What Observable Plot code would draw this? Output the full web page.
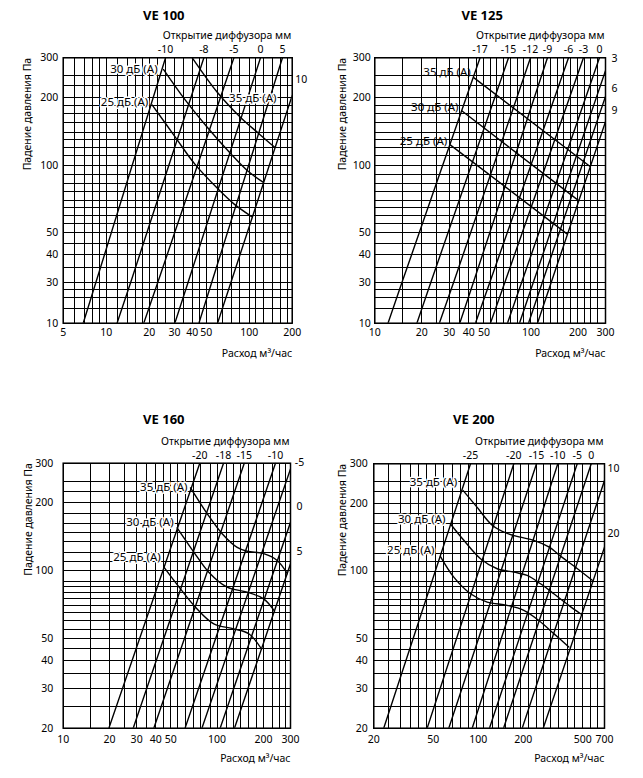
<!DOCTYPE html>
<html>
<head>
<meta charset="utf-8">
<script src="https://cdn.jsdelivr.net/npm/d3@7"></script>
<script src="https://cdn.jsdelivr.net/npm/@observablehq/plot@0.6"></script>
<style>
  body { margin: 0; background: #fff; }
  #root { position: relative; width: 643px; height: 778px; overflow: hidden; background: #fff; }
  .panel { position: absolute; }
</style>
</head>
<body>
<div id="root"></div>
<script>
// ---------------- DATA ----------------
const panelTitles = ["VE 100", "VE 125", "VE 160", "VE 200"];
const topAxisTitle = "Открытие диффузора мм";
const yAxisTitle = "Падение давления Па";
const xAxisTitle = "Расход м³/час";
const dbNames = ["25 дБ (A)", "30 дБ (A)", "35 дБ (A)"];

// VE 100  (flow m3/h, pressure Pa)
const ve100Names = ["-10", "-8", "-5", "0", "5", "10"];
const ve100Lines = [
  [[6.9, 10], [8.45, 30], [26.0, 300]],
  [[11.9, 10], [14.8, 30], [48.2, 300]],
  [[18.3, 10], [22.9, 30], [78.2, 300]],
  [[30.2, 10], [37.3, 30], [120, 300]],
  [[44.5, 10], [54.6, 30], [171, 300]],
  [[60.1, 10], [74.4, 30], [200, 204]]
];
const ve100RightLabelP = [240];
const ve100Db = [
  [[21.0, 185], [30.5, 133], [41.7, 101], [60.4, 78.5], [78.2, 67.3], [104, 59.1]],
  [[25.2, 266], [35.9, 194], [50.9, 147.5], [74.1, 112.7], [97, 94.7], [125, 84]],
  [[40, 300], [59.8, 211], [87.1, 163], [117, 138], [151, 120]]
];
const ve100Db35LabelAt = [106, 198];
const ve100XTicks = [5, 10, 20, 30, 40, 50, 100, 200];
const ve100GridX = [5, 6, 7, 8, 9, 10, 12, 14, 16, 18, 20, 23, 26, 30, 35, 40, 45, 50, 60, 65, 75, 85, 100, 110, 125, 145, 165, 185, 200];

// VE 125
const ve125Names = ["-17", "-15", "-12", "-9", "-6", "-3", "0", "3", "6", "9"];
const ve125Lines = [
  [[12.15, 10], [14.9, 30], [47.2, 300]],
  [[18.6, 10], [22.8, 30], [71.8, 300]],
  [[25.9, 10], [31.9, 30], [99.3, 300]],
  [[35.0, 10], [42.7, 30], [127.5, 300]],
  [[44.1, 10], [54.4, 30], [173.9, 300]],
  [[55.0, 10], [67.9, 30], [216.8, 300]],
  [[70.7, 10], [87.0, 30], [274.5, 300]],
  [[84.4, 10], [103.3, 30], [300, 263]],
  [[96.4, 10], [118, 30], [300, 202]],
  [[110.1, 10], [134.5, 30], [300, 156]]
];
const ve125RightLabelP = [296, 219, 175];
const ve125Db = [
  [[30.4, 123], [170, 49.5]],
  [[36.2, 174], [201, 69.7]],
  [[43.0, 245], [238, 98.9]]
];
const ve125XTicks = [10, 20, 30, 40, 50, 100, 200, 300];
const ve125GridX = [10, 15, 20, 25, 30, 35, 40, 45, 50, 55, 60, 67, 74, 82, 90, 100, 110, 120, 133, 147, 162, 180, 200, 220, 240, 265, 300];

// VE 160
const ve160Names = ["-20", "-18", "-15", "-10", "-5", "0", "5"];
const ve160Lines = [
  [[19.8, 20], [77.2, 300]],
  [[28.5, 20], [110.1, 300]],
  [[38.8, 20], [150.2, 300]],
  [[61.9, 20], [239.6, 300]],
  [[79.7, 20], [300, 283]],
  [[104.7, 20], [300, 164]],
  [[129.7, 20], [300, 107.3]]
];
const ve160RightLabelP = [303, 193, 121];
const ve160Db = [
  [[45.0, 104], [57.8, 83.1], [72.4, 68.9], [95.2, 58.1], [128.4, 55.2], [160.7, 52.5], [194.3, 45]],
  [[55.0, 155], [70.6, 121], [88.3, 98.5], [116.3, 84.5], [156.9, 80.3], [201, 75], [236, 66.1]],
  [[67.2, 233], [86.3, 179], [107.9, 146], [135.1, 127], [156.9, 122], [201, 119], [246, 111], [286, 97]]
];
const ve160XTicks = [10, 20, 30, 40, 50, 100, 200, 300];
const ve160GridX = [10, 15, 20, 25, 30, 35, 40, 45, 50, 55, 62, 70, 78, 90, 100, 115, 128, 142, 160, 180, 200, 228, 255, 278, 300];

// VE 200
const ve200Names = ["-25", "-20", "-15", "-10", "-5", "0", "10", "20"];
const ve200Lines = [
  [[23.3, 20], [88.8, 300]],
  [[45.5, 20], [173, 300]],
  [[63.5, 20], [245.5, 300]],
  [[91.1, 20], [340.8, 300]],
  [[118.9, 20], [459.7, 300]],
  [[147.7, 20], [570.5, 300]],
  [[196.9, 20], [700, 253]],
  [[272.2, 20], [700, 127.8]]
];
const ve200RightLabelP = [285, 146];
const ve200Db = [
  [[55.9, 116], [68.6, 94], [88.8, 79.3], [114.8, 72.8], [156.3, 70.4], [201.9, 66.9], [254.3, 60.3], [320.5, 52.7], [403.9, 45.9]],
  [[65.2, 162], [80.1, 137], [103.5, 113.5], [133.9, 102.4], [173, 98.9], [212.7, 95.7], [261, 87.8], [320.5, 79.3], [403.9, 70.4], [483.6, 64.6]],
  [[79.3, 228], [98.4, 192], [124, 160], [156.3, 147], [191.8, 141.5], [235.6, 137], [296.8, 128], [364.7, 115], [447.7, 104], [579.4, 91]]
];
const ve200XTicks = [20, 50, 100, 200, 500, 700];
const ve200GridX = [20, 25, 30, 35, 40, 45, 52, 59, 67, 76, 86, 97, 109, 124, 137, 152, 171, 192, 218, 245, 275, 305, 346, 394, 441, 497, 564, 626, 700];

// shared y
const topYTicks = [10, 30, 40, 50, 100, 200, 300];
const topGridY = [10, 15, 20, 25, 30, 35, 40, 45, 50, 55, 60, 65, 70, 76, 83, 91, 100, 110, 120, 130, 140, 155, 170, 185, 200, 225, 250, 300];
const bottomYTicks = [20, 30, 40, 50, 100, 200, 300];
const bottomGridY = [20, 25, 30, 35, 40, 45, 50, 55, 60, 65, 70, 75, 80, 85, 90, 100, 110, 120, 135, 148, 162, 180, 200, 225, 250, 300];

// ---------------- LAYOUT / STYLE ----------------
const FONT = "'Noto Sans', 'DejaVu Sans', sans-serif";
const panels = [
  {title: panelTitles[0], left: 0, top: 0, width: 321, height: 390, ml: 62.7, mr: 29.3, mt: 57.3, mb: 67.3,
   xDomain: [5, 200], yDomain: [10, 30, 300], piece: true, xTicks: ve100XTicks, yTicks: topYTicks,
   gridX: ve100GridX, gridY: topGridY, names: ve100Names, lines: ve100Lines, rightP: ve100RightLabelP,
   db: ve100Db, dbOff: [[-4, -3], [-6, 0], null], dbSpecial: ve100Db35LabelAt, halo: true,
   titleDx: 100.6, titleDy: -47.3, ylabDx: -39.4, xPad: 5, yPad: 5},
  {title: panelTitles[1], left: 321, top: 0, width: 322, height: 390, ml: 53.3, mr: 38, mt: 57.3, mb: 67.3,
   xDomain: [10, 300], yDomain: [10, 30, 300], piece: true, xTicks: ve125XTicks, yTicks: topYTicks,
   gridX: ve125GridX, gridY: topGridY, names: ve125Names, lines: ve125Lines, rightP: ve125RightLabelP,
   db: ve125Db, dbOff: [[-3, -3.5], [-3.5, -4], [-3, -5]], halo: false,
   titleDx: 107.4, titleDy: -47.3, ylabDx: -36, xPad: 5, yPad: 4},
  {title: panelTitles[2], left: 0, top: 390, width: 321, height: 388, ml: 62.7, mr: 31, mt: 72.7, mb: 50.3,
   xDomain: [10, 300], yDomain: [20, 300], piece: false, xTicks: ve160XTicks, yTicks: bottomYTicks,
   gridX: ve160GridX, gridY: bottomGridY, names: ve160Names, lines: ve160Lines, rightP: ve160RightLabelP,
   db: ve160Db, dbOff: [[-3, -10], [-3.5, -5.5], [-3, -1]], halo: true,
   titleDx: 100.6, titleDy: -48.7, ylabDx: -38.5, xPad: 7, yPad: 10},
  {title: panelTitles[3], left: 321, top: 390, width: 322, height: 388, ml: 52.3, mr: 39, mt: 73.3, mb: 50.3,
   xDomain: [20, 700], yDomain: [20, 300], piece: false, xTicks: ve200XTicks, yTicks: bottomYTicks,
   gridX: ve200GridX, gridY: bottomGridY, names: ve200Names, lines: ve200Lines, rightP: ve200RightLabelP,
   db: ve200Db, dbOff: [[-6, -6], [-5, -5], [-6, -8]], halo: true,
   titleDx: 100, titleDy: -49.3, ylabDx: -35, xPad: 7, yPad: 6}
];

function buildPanel(c) {
  const lineRows = c.lines.flatMap((pts, i) => pts.map(([q, p]) => ({id: i, q, p})));
  const dbRows = c.db.flatMap((pts, i) => pts.map(([q, p]) => ({id: i, q, p})));
  const yMax = c.yDomain[c.yDomain.length - 1];
  const xMax = c.xDomain[1];
  const topLab = [], rightLab = [];
  let r = 0;
  c.lines.forEach((pts, i) => {
    const [q, p] = pts[pts.length - 1];
    if (p >= yMax) topLab.push({name: c.names[i], q, p});
    else rightLab.push({name: c.names[i], q: xMax, p: c.rightP[r++]});
  });
  const haloOpts = c.halo ? {stroke: "white", strokeWidth: 3, paintOrder: "stroke"} : {};
  const dbLabelMarks = c.db.map((pts, i) => {
    const off = c.dbOff[i];
    if (off) {
      return Plot.text([{name: dbNames[i], q: pts[0][0], p: pts[0][1]}],
        {x: "q", y: "p", text: "name", textAnchor: "end", dx: off[0], dy: off[1], fontSize: 11.5, fill: "black", ...haloOpts});
    }
    return Plot.text([{name: dbNames[i], q: c.dbSpecial[0], p: c.dbSpecial[1]}],
      {x: "q", y: "p", text: "name", textAnchor: "middle", fontSize: 11.5, fill: "black", ...haloOpts});
  });
  const xTickRows = c.xTicks.map(v => ({v, label: String(v)}));
  const yScale = c.piece
    ? {type: "log", domain: c.yDomain, range: [c.height - c.mb, c.mt + 225, c.mt]}
    : {type: "log", domain: c.yDomain};
  const svg = Plot.plot({
    width: c.width, height: c.height,
    marginLeft: c.ml, marginRight: c.mr, marginTop: c.mt, marginBottom: c.mb,
    x: {type: "log", domain: c.xDomain, axis: null},
    y: yScale,
    style: {fontFamily: FONT, fontSize: "11px", background: "white", color: "black", overflow: "visible"},
    marks: [
      Plot.ruleX(c.gridX, {stroke: "#000", strokeWidth: 1, shapeRendering: "crispEdges"}),
      Plot.ruleY(c.gridY, {stroke: "#000", strokeWidth: 1, shapeRendering: "crispEdges"}),
      Plot.line(lineRows, {x: "q", y: "p", z: "id", stroke: "#000", strokeWidth: 1.4, clip: true}),
      Plot.line(dbRows, {x: "q", y: "p", z: "id", stroke: "#000", strokeWidth: 1.4, curve: "catmull-rom", clip: true}),
      Plot.frame({stroke: "#000", strokeWidth: 1.5}),
      ...dbLabelMarks,
      Plot.text(topLab, {x: "q", y: "p", text: "name", dy: -8, fontSize: 10.5}),
      Plot.text(rightLab, {x: "q", y: "p", text: "name", dx: 9, fontSize: 10.5}),
      // bottom tick labels (flow)
      Plot.text(xTickRows, {x: "v", text: "label", frameAnchor: "bottom", lineAnchor: "top", dy: c.xPad, fontSize: 10.5}),
      Plot.axisY({ticks: c.yTicks, tickSize: 0, tickPadding: c.yPad, tickFormat: d => String(d), label: null, fontSize: 10.5}),
      Plot.text([c.title], {frameAnchor: "top-left", text: d => d, dx: c.titleDx, dy: c.titleDy, textAnchor: "middle", fontWeight: "bold", fontSize: 13}),
      Plot.text([topAxisTitle], {frameAnchor: "top-right", text: d => d, dx: -1, dy: -26, textAnchor: "end", fontSize: 10.5}),
      Plot.text([xAxisTitle], {frameAnchor: "bottom-right", text: d => d, dx: 0, dy: 33.5, textAnchor: "end", fontSize: 10.5}),
      Plot.text([yAxisTitle], {frameAnchor: "top-left", text: d => d, dx: c.ylabDx, dy: 0, rotate: -90, textAnchor: "end", fontSize: 10.5})
    ]
  });
  const div = document.createElement("div");
  div.className = "panel";
  div.style.left = c.left + "px";
  div.style.top = c.top + "px";
  div.appendChild(svg);
  return div;
}

const root = document.getElementById("root");
for (const c of panels) root.appendChild(buildPanel(c));
</script>
</body>
</html>
